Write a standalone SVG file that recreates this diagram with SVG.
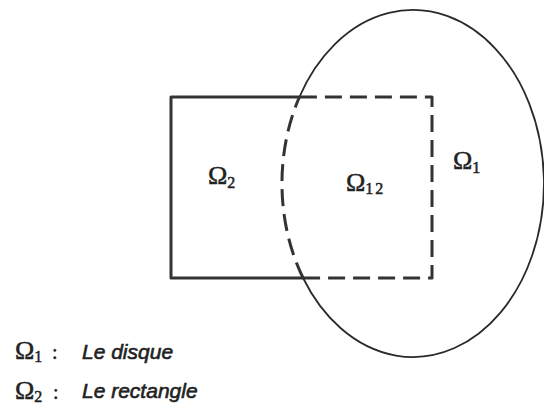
<svg xmlns="http://www.w3.org/2000/svg" width="544" height="409" viewBox="0 0 544 409">
<style>
.solid{fill:none;stroke:#333;stroke-width:3;stroke-linejoin:round}
.dash{fill:none;stroke:#333;stroke-width:3;stroke-dasharray:17 8;stroke-linejoin:round}
.circ{fill:none;stroke:#2a2a2a;stroke-width:1.8}
.om{font-family:"Liberation Serif","DejaVu Serif",serif;fill:#222;stroke:#222;stroke-width:0.5}
.leg{font-family:"Liberation Sans","DejaVu Sans",sans-serif;font-style:italic;fill:#222;stroke:#222;stroke-width:0.6;font-size:21px}
</style>
<rect width="544" height="409" fill="#fff"/>
<g id="rectangle">
<path class="solid" d="M299.4,97 H171 V278 H303.1"/>
<path class="dash" d="M303.1,278 H432 V97 H299.4"/>
</g>
<g id="disque">
<path class="circ" d="M299.4,97 A131,173.5 0 1 1 303.1,278"/>
<path class="dash" stroke-width="2.6" d="M303.1,278 A131,173.5 0 0 1 299.4,97"/>
</g>
<g id="labels">
<text class="om" x="208" y="184" font-size="26">Ω<tspan font-size="16" dy="4">2</tspan></text>
<text class="om" x="346" y="191" font-size="26">Ω<tspan font-size="16" dy="3" letter-spacing="2">12</tspan></text>
<text class="om" x="453" y="169" font-size="26">Ω<tspan font-size="16" dy="4">1</tspan></text>
</g>
<g id="legende">
<text class="om" x="15" y="359" font-size="26">Ω<tspan font-size="16" dy="3">1</tspan><tspan font-size="20" dy="-3" x="52">:</tspan></text>
<text class="leg" x="82" y="359">Le disque</text>
<text class="om" x="15" y="399" font-size="26">Ω<tspan font-size="16" dy="3">2</tspan><tspan font-size="20" dy="-3" x="53">:</tspan></text>
<text class="leg" x="82" y="398">Le rectangle</text>
</g>
</svg>
